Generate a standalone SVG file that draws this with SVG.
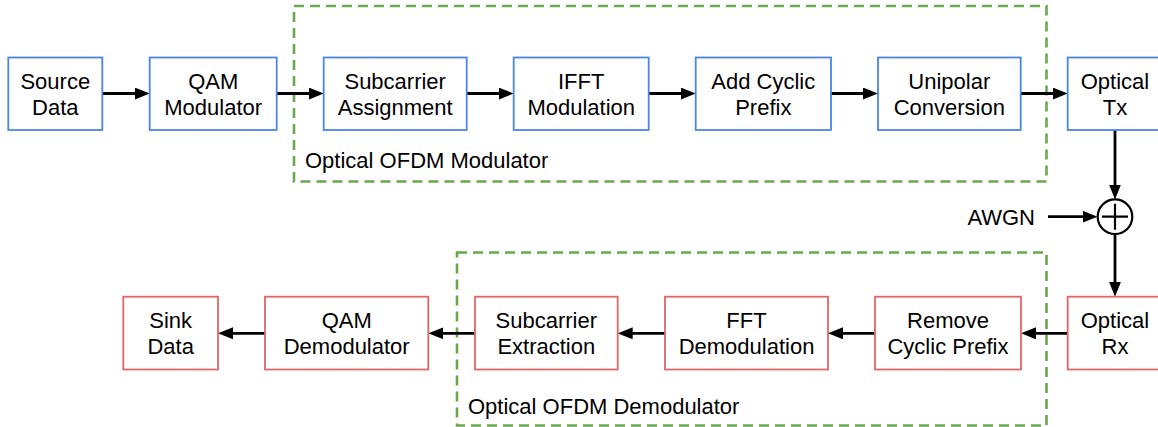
<svg xmlns="http://www.w3.org/2000/svg" width="1158" height="427" viewBox="0 0 1158 427">
<style>
.t{font-family:"Liberation Sans",Arial,sans-serif;font-size:22px;fill:#000;text-anchor:middle}
.lab{font-family:"Liberation Sans",Arial,sans-serif;font-size:22px;fill:#000}
.b{fill:#fff;stroke:#4a86e8;stroke-width:1.8}
.r{fill:#fff;stroke:#e06666;stroke-width:1.8}
.g{fill:none;stroke:#6aa84f;stroke-width:2.6;stroke-dasharray:10 6}
.c{fill:none;stroke:#000;stroke-width:2.8}
</style>
<defs>
<marker id="ah" viewBox="0 0 15 12" refX="5" refY="6" markerWidth="15" markerHeight="12" markerUnits="userSpaceOnUse" orient="auto">
<path d="M0,0 L15,6 L0,12 z" fill="#000"/>
</marker>
</defs>
<rect id="mod-group" class="g" x="294" y="6" width="752.5" height="175.5"/>
<text class="lab" x="305" y="168">Optical OFDM Modulator</text>
<rect id="demod-group" class="g" x="457" y="252.5" width="589.5" height="173"/>
<text class="lab" x="468" y="414">Optical OFDM Demodulator</text>
<g id="connectors">
<path class="c" marker-end="url(#ah)" d="M102.3,93.5 H139.7"/>
<path class="c" marker-end="url(#ah)" d="M276.7,93.5 H313.7"/>
<path class="c" marker-end="url(#ah)" d="M466.7,93.5 H503.7"/>
<path class="c" marker-end="url(#ah)" d="M648.7,93.5 H685.7"/>
<path class="c" marker-end="url(#ah)" d="M831,93.5 H868"/>
<path class="c" marker-end="url(#ah)" d="M1020.7,93.5 H1057.7"/>
<path class="c" marker-end="url(#ah)" d="M1115,130 V189.5"/>
<path class="c" marker-end="url(#ah)" d="M1048,216.7 H1087.5"/>
<path class="c" marker-end="url(#ah)" d="M1115,234.2 V286.7"/>
<path class="c" marker-end="url(#ah)" d="M1067.7,333.3 H1031"/>
<path class="c" marker-end="url(#ah)" d="M875,333.3 H838"/>
<path class="c" marker-end="url(#ah)" d="M665,333.3 H627.7"/>
<path class="c" marker-end="url(#ah)" d="M475,333.3 H438.3"/>
<path class="c" marker-end="url(#ah)" d="M265,333.3 H228"/>
</g>
<g id="source-data"><rect class="b" x="8.3" y="57.5" width="94" height="72.5"/><text class="t" x="55.3" y="89">Source</text><text class="t" x="55.3" y="115">Data</text></g>
<g id="qam-modulator"><rect class="b" x="149.7" y="57.5" width="127" height="72.5"/><text class="t" x="213.2" y="89">QAM</text><text class="t" x="213.2" y="115">Modulator</text></g>
<g id="subcarrier-assignment"><rect class="b" x="323.7" y="57.5" width="143" height="72.5"/><text class="t" x="395.2" y="89">Subcarrier</text><text class="t" x="395.2" y="115">Assignment</text></g>
<g id="ifft-modulation"><rect class="b" x="513.7" y="57.5" width="135" height="72.5"/><text class="t" x="581.2" y="89">IFFT</text><text class="t" x="581.2" y="115">Modulation</text></g>
<g id="add-cyclic-prefix"><rect class="b" x="695.7" y="57.5" width="135.3" height="72.5"/><text class="t" x="763.3" y="89">Add Cyclic</text><text class="t" x="763.3" y="115">Prefix</text></g>
<g id="unipolar-conversion"><rect class="b" x="878" y="57.5" width="142.7" height="72.5"/><text class="t" x="949.3" y="89">Unipolar</text><text class="t" x="949.3" y="115">Conversion</text></g>
<g id="optical-tx"><rect class="b" x="1067.7" y="57.5" width="94" height="72.5"/><text class="t" x="1115" y="89">Optical</text><text class="t" x="1115" y="115">Tx</text></g>
<g id="awgn"><text class="lab" x="1035" y="225" text-anchor="end">AWGN</text></g>
<g id="adder"><circle cx="1115" cy="216.7" r="17.3" fill="#fff" stroke="#000" stroke-width="2.2"/><path d="M1102,216.7 H1128 M1115,203.7 V229.7" stroke="#000" stroke-width="2.2"/></g>
<g id="optical-rx"><rect class="r" x="1067.7" y="296.7" width="94" height="72.8"/><text class="t" x="1115" y="328">Optical</text><text class="t" x="1115" y="354">Rx</text></g>
<g id="remove-cyclic-prefix"><rect class="r" x="875" y="296.7" width="146" height="72.8"/><text class="t" x="948" y="328">Remove</text><text class="t" x="948" y="354">Cyclic Prefix</text></g>
<g id="fft-demodulation"><rect class="r" x="665" y="296.7" width="163" height="72.8"/><text class="t" x="746.5" y="328">FFT</text><text class="t" x="746.5" y="354">Demodulation</text></g>
<g id="subcarrier-extraction"><rect class="r" x="475" y="296.7" width="142.7" height="72.8"/><text class="t" x="546.3" y="328">Subcarrier</text><text class="t" x="546.3" y="354">Extraction</text></g>
<g id="qam-demodulator"><rect class="r" x="265" y="296.7" width="163.3" height="72.8"/><text class="t" x="346.7" y="328">QAM</text><text class="t" x="346.7" y="354">Demodulator</text></g>
<g id="sink-data"><rect class="r" x="123.3" y="296.7" width="94.7" height="72.8"/><text class="t" x="170.7" y="328">Sink</text><text class="t" x="170.7" y="354">Data</text></g>
</svg>
